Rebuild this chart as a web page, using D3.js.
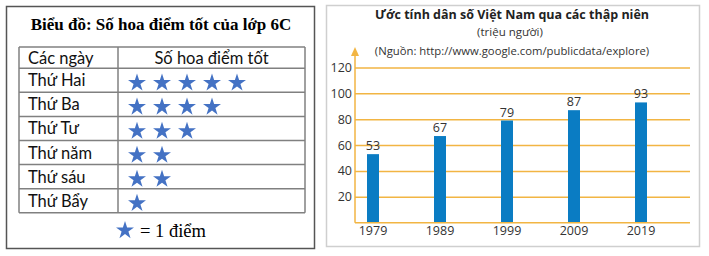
<!DOCTYPE html>
<html>
<head>
<meta charset="utf-8">
<script src="https://cdn.jsdelivr.net/npm/d3@7"></script>
<style>
  body { margin: 0; background: #fff; }
  svg { display: block; }
</style>
</head>
<body>
<div id="chart"></div>
<script>
// pictograph data (left)
const days = ["Thứ Hai", "Thứ Ba", "Thứ Tư", "Thứ năm", "Thứ sáu", "Thứ Bẩy"];
const starCounts = [5, 4, 3, 2, 2, 1];

// population bar chart data (right)
const years = ["1979", "1989", "1999", "2009", "2019"];
const population = [53, 67, 79, 87, 93];
const yTicks = [20, 40, 60, 80, 100, 120];

const svg = d3.select('#chart').append('svg')
  .attr('width', 709)
  .attr('height', 256);

const starBlue = '#4472c4';
const star = d3.symbol(d3.symbolStar, 100);

// ---------- left panel ----------
const left = svg.append('g');

left.append('rect')
  .attr('x', 6.5).attr('y', 6.5)
  .attr('width', 308).attr('height', 242)
  .attr('fill', '#fff')
  .attr('stroke', '#555')
  .attr('stroke-width', 1.5);

left.append('text')
  .attr('x', 161).attr('y', 29.5)
  .attr('text-anchor', 'middle')
  .style('font-family', '"Liberation Serif", serif')
  .style('font-weight', 'bold')
  .style('font-size', '17px')
  .attr('fill', '#000')
  .text('Biểu đồ: Số hoa điểm tốt của lớp 6C');

const tableLeft = 19, tableDiv = 118, tableRight = 305;
const headTop = 47, headBottom = 68.3, tableBottom = 212.7;

const row = d3.scaleBand()
  .domain(days)
  .range([headBottom, tableBottom]);

const starX = d3.scaleLinear().domain([0, 1]).range([137, 162]);

const tableFont = 'Lato, "Open Sans", sans-serif';

// header
left.append('text')
  .attr('x', 28).attr('y', headBottom - 4.5)
  .style('font-family', tableFont).style('font-size', '16.5px')
  .attr('fill', '#111')
  .text('Các ngày');
left.append('text')
  .attr('x', (tableDiv + tableRight) / 2).attr('y', headBottom - 4.5)
  .attr('text-anchor', 'middle')
  .style('font-family', tableFont).style('font-size', '16.5px')
  .attr('fill', '#111')
  .text('Số hoa điểm tốt');

// row labels
left.selectAll('.day')
  .data(days)
  .enter().append('text')
  .attr('class', 'day')
  .attr('x', 28)
  .attr('y', d => row(d) + row.bandwidth() / 2 + 6)
  .style('font-family', tableFont).style('font-size', '16.5px')
  .attr('fill', '#111')
  .text(d => d);

// stars
days.forEach((d, i) => {
  left.selectAll(null)
    .data(d3.range(starCounts[i]))
    .enter().append('path')
    .attr('d', star)
    .attr('transform', k => `translate(${starX(k)},${row(d) + row.bandwidth() / 2 + 2.6})`)
    .attr('fill', starBlue);
});

// grid lines of the table
const lineColor = '#808080';
[headTop, headBottom, ...days.map(d => row(d) + row.bandwidth())].forEach(y => {
  left.append('line')
    .attr('x1', tableLeft).attr('x2', tableRight)
    .attr('y1', y).attr('y2', y)
    .attr('stroke', lineColor).attr('stroke-width', 1.5);
});
[tableLeft, tableDiv, tableRight].forEach(x => {
  left.append('line')
    .attr('x1', x).attr('x2', x)
    .attr('y1', headTop).attr('y2', tableBottom)
    .attr('stroke', lineColor).attr('stroke-width', 1.5);
});

// legend
left.append('path')
  .attr('d', star)
  .attr('transform', 'translate(125,230.5)')
  .attr('fill', starBlue);
left.append('text')
  .attr('x', 140).attr('y', 236.5)
  .style('font-family', '"Liberation Serif", serif')
  .style('font-size', '18.5px')
  .attr('fill', '#000')
  .text('= 1 điểm');

// ---------- right panel ----------
const right = svg.append('g');

right.append('rect')
  .attr('x', 326.5).attr('y', 5.5)
  .attr('width', 373).attr('height', 241)
  .attr('fill', '#fff')
  .attr('stroke', '#cfcfcf')
  .attr('stroke-width', 1.5);

const sansFont = '"Open Sans", "Noto Sans", sans-serif';

right.append('text')
  .attr('x', 512).attr('y', 19)
  .attr('text-anchor', 'middle')
  .style('font-family', sansFont).style('font-weight', 'bold')
  .style('font-size', '12.5px')
  .attr('fill', '#222')
  .text('Ước tính dân số Việt Nam qua các thập niên');
right.append('text')
  .attr('x', 510).attr('y', 36)
  .attr('text-anchor', 'middle')
  .style('font-family', sansFont).style('font-size', '11.5px')
  .attr('fill', '#333')
  .text('(triệu người)');
right.append('text')
  .attr('x', 512).attr('y', 55)
  .attr('text-anchor', 'middle')
  .style('font-family', sansFont).style('font-size', '11.3px')
  .attr('fill', '#333')
  .text('(Nguồn: http://www.google.com/publicdata/explore)');

const axisX = 355, gridRight = 690;
const y = d3.scaleLinear().domain([0, 120]).range([222.7, 67.5]);
const x = d3.scalePoint().domain(years).range([373, 641]);
const barW = 12;
const orange = '#f2b543';
const labelFont = '"Open Sans", "Noto Sans", sans-serif';

// gridlines + y tick labels via axis
const yAxis = right.append('g')
  .attr('transform', `translate(${axisX},0)`)
  .call(d3.axisLeft(y).tickValues(yTicks).tickSize(-(gridRight - axisX)).tickPadding(3));
yAxis.select('.domain').remove();
yAxis.selectAll('.tick line').attr('stroke', orange).attr('stroke-width', 1.5);
yAxis.selectAll('.tick text')
  .style('font-family', labelFont).style('font-size', '12.5px')
  .attr('fill', '#333');

// bars
right.selectAll('.bar')
  .data(population)
  .enter().append('rect')
  .attr('class', 'bar')
  .attr('x', (d, i) => x(years[i]) - barW / 2)
  .attr('y', d => y(d))
  .attr('width', barW)
  .attr('height', d => y(0) - y(d))
  .attr('fill', '#0a7cc3');

// value labels
right.selectAll('.val')
  .data(population)
  .enter().append('text')
  .attr('class', 'val')
  .attr('x', (d, i) => x(years[i]))
  .attr('y', d => y(d) - 4)
  .attr('text-anchor', 'middle')
  .style('font-family', labelFont).style('font-size', '12.5px')
  .attr('fill', '#333')
  .text(d => d);

// x axis line and year labels
right.append('line')
  .attr('x1', axisX).attr('x2', gridRight)
  .attr('y1', y(0)).attr('y2', y(0))
  .attr('stroke', orange).attr('stroke-width', 1.5);
right.selectAll('.year')
  .data(years)
  .enter().append('text')
  .attr('class', 'year')
  .attr('x', d => x(d))
  .attr('y', 234.5)
  .attr('text-anchor', 'middle')
  .style('font-family', labelFont).style('font-size', '12.5px')
  .attr('fill', '#333')
  .text(d => d);

// y axis line with arrow
right.append('line')
  .attr('x1', axisX).attr('x2', axisX)
  .attr('y1', y(0)).attr('y2', 54)
  .attr('stroke', orange).attr('stroke-width', 1.5);
right.append('path')
  .attr('d', `M${axisX - 4},56 L${axisX},47 L${axisX + 4},56 Z`)
  .attr('fill', orange);
</script>
</body>
</html>
